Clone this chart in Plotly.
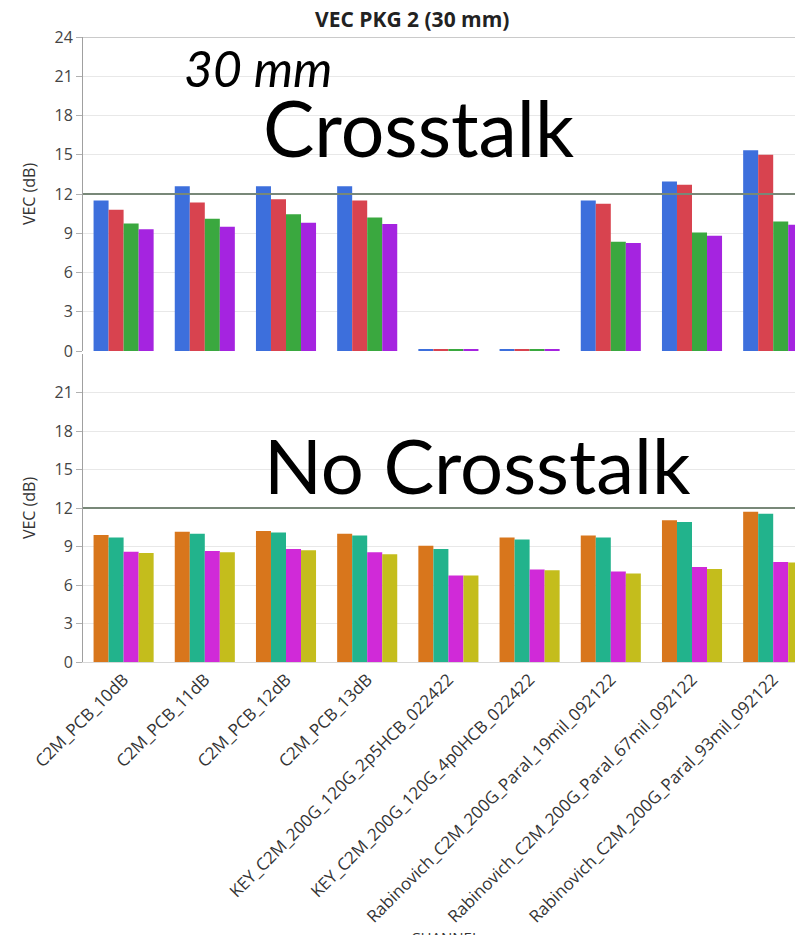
import plotly.graph_objects as go
from plotly.subplots import make_subplots

# Channels on the x axis
channels = [
    "C2M_PCB_10dB",
    "C2M_PCB_11dB",
    "C2M_PCB_12dB",
    "C2M_PCB_13dB",
    "KEY_C2M_200G_120G_2p5HCB_022422",
    "KEY_C2M_200G_120G_4p0HCB_022422",
    "Rabinovich_C2M_200G_Paral_19mil_092122",
    "Rabinovich_C2M_200G_Paral_67mil_092122",
    "Rabinovich_C2M_200G_Paral_93mil_092122",
]

# VEC (dB) with crosstalk
xt_s1 = [11.5, 12.6, 12.6, 12.6, 0.15, 0.15, 11.5, 12.95, 15.35]
xt_s2 = [10.8, 11.35, 11.6, 11.5, 0.15, 0.15, 11.25, 12.7, 15.0]
xt_s3 = [9.75, 10.1, 10.45, 10.2, 0.15, 0.15, 8.35, 9.05, 9.9]
xt_s4 = [9.3, 9.5, 9.8, 9.7, 0.15, 0.15, 8.25, 8.8, 9.65]

# VEC (dB) without crosstalk
nx_s1 = [9.9, 10.15, 10.2, 10.0, 9.05, 9.7, 9.85, 11.05, 11.7]
nx_s2 = [9.7, 10.0, 10.1, 9.85, 8.8, 9.55, 9.7, 10.9, 11.55]
nx_s3 = [8.6, 8.65, 8.8, 8.55, 6.75, 7.2, 7.05, 7.4, 7.8]
nx_s4 = [8.5, 8.55, 8.7, 8.4, 6.75, 7.15, 6.9, 7.25, 7.75]

xt_colors = ["#3d6fdc", "#d8434f", "#3aa83f", "#a524e0"]
nx_colors = ["#d8761c", "#22b38c", "#d02ad8", "#c4bd1c"]

limit_db = 12

W, H = 795, 935
L, R, T, B = 83, 0, 37, 273
plot_w = W - L - R
plot_h = H - T - B


def px_x(x):
    return (x - L) / plot_w


def px_y(y):
    return (H - B - y) / plot_h


fig = make_subplots(rows=2, cols=1, shared_xaxes=True, vertical_spacing=0.005)

for i, (vals, col) in enumerate(zip([xt_s1, xt_s2, xt_s3, xt_s4], xt_colors)):
    fig.add_trace(go.Bar(x=channels, y=vals, name=f"Crosstalk {i + 1}",
                         marker=dict(color=col, line=dict(width=0))), row=1, col=1)
for i, (vals, col) in enumerate(zip([nx_s1, nx_s2, nx_s3, nx_s4], nx_colors)):
    fig.add_trace(go.Bar(x=channels, y=vals, name=f"No crosstalk {i + 1}",
                         marker=dict(color=col, line=dict(width=0))), row=2, col=1)

tick_font = dict(family="Open Sans", size=16, color="#444444")
title_font = dict(family="Open Sans", size=16, color="#333333")

yax_common = dict(
    range=[0, 24], gridcolor="#e8e8e8", gridwidth=1, zeroline=False,
    showline=True, linecolor="#a0a0a0", linewidth=1,
    ticks="outside", ticklen=6, tickcolor="#b0b0b0",
    tickfont=tick_font, title=dict(text="VEC (dB)", font=title_font, standoff=14),
)
fig.update_yaxes(**yax_common)
fig.update_yaxes(domain=[px_y(351), 1.0], tickvals=list(range(0, 25, 3)), row=1, col=1)
fig.update_yaxes(domain=[0.0, px_y(354)], tickvals=list(range(0, 22, 3)), row=2, col=1)

xrange = [-0.5, -0.5 + plot_w / 81.2]
fig.update_xaxes(range=xrange, showgrid=False, zeroline=False, showline=False)
fig.update_xaxes(showticklabels=False, ticks="", row=1, col=1)
fig.update_xaxes(tickangle=-45, tickfont=dict(family="Open Sans", size=17, color="#333333"),
                 ticks="", showline=True, linecolor="#d8d8d8", row=2, col=1)

# 12 dB limit line in each panel
for yref in ["y", "y2"]:
    fig.add_shape(type="line", xref="paper", x0=0, x1=1, yref=yref, y0=limit_db, y1=limit_db,
                  line=dict(color="#788878", width=2), layer="above")
# top frame line
fig.add_shape(type="line", xref="paper", x0=0, x1=1, yref="y", y0=24, y1=24,
              line=dict(color="#b8b8b8", width=1.5), layer="below")

big = "Lato"
fig.add_annotation(text="VEC PKG 2 (30 mm)", xref="paper", yref="paper",
                   x=px_x(412), y=px_y(19), xanchor="center", yanchor="middle", showarrow=False,
                   font=dict(family="Open Sans", size=21, color="#222222", weight="bold"))
fig.add_annotation(text="<i>30 mm</i>", xref="paper", yref="paper",
                   x=px_x(182), y=px_y(68), xanchor="left", yanchor="middle", showarrow=False,
                   font=dict(family=big, size=50, color="#000000"))
fig.add_annotation(text="Crosstalk", xref="paper", yref="paper",
                   x=px_x(261), y=px_y(127), xanchor="left", yanchor="middle", showarrow=False,
                   font=dict(family=big, size=77, color="#000000"))
fig.add_annotation(text="No Crosstalk", xref="paper", yref="paper",
                   x=px_x(262), y=px_y(464), xanchor="left", yanchor="middle", showarrow=False,
                   font=dict(family=big, size=76, color="#000000"))
fig.add_annotation(text="CHANNEL", xref="paper", yref="paper",
                   x=px_x(445), y=px_y(925), xanchor="center", yanchor="top", showarrow=False,
                   font=dict(family="Open Sans", size=15, color="#333333"))

fig.update_layout(
    width=W, height=H,
    margin=dict(l=L, r=R, t=T, b=B, autoexpand=False),
    barmode="group", bargap=0.26, bargroupgap=0.0,
    showlegend=False,
    plot_bgcolor="#ffffff", paper_bgcolor="#ffffff",
)

fig.write_html("out.html")
